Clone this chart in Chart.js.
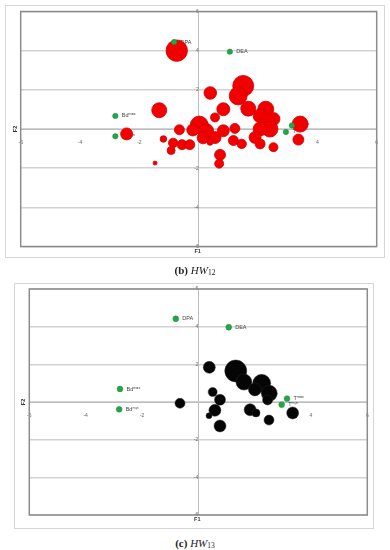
<!DOCTYPE html>
<html><head><meta charset="utf-8">
<script src="https://cdn.jsdelivr.net/npm/chart.js@4"></script>
<style>
body{margin:0;width:390px;height:550px;background:#fff;position:relative;overflow:hidden;font-family:'Liberation Serif',serif}
.frame{position:absolute;border:1px solid #d6d6d6;box-sizing:border-box}
.cv{position:absolute;left:0}
.cap{position:absolute;left:0;width:390px;text-align:center;font-size:11px;color:#222;line-height:14px}
.cap .s{font-size:7.5px;vertical-align:-1px}
</style></head><body>
<div class="frame" style="left:5px;top:5px;width:380px;height:253px"></div>
<div class="frame" style="left:14px;top:283px;width:360px;height:246px"></div>
<div class="cv" style="top:0;width:390px;height:258px"><canvas id="c1"></canvas></div>
<div class="cv" style="top:270px;width:390px;height:260px"><canvas id="c2"></canvas></div>
<div class="cap" style="top:263px"><b>(b)</b> <i>HW</i><span class="s">12</span></div>
<div class="cap" style="top:536px"><b>(c)</b> <i>HW</i><span class="s">13</span></div>
<script>
// axis range / ticks
const axisMin = -6, axisMax = 6, tickStep = 2;

// green reference points (labels)
const greenLabels = ['DPA', 'DEA', 'Bdᵐᵃˣ', 'Bdᵐⁱⁿ', 'Tᵐᵃˣ', 'Tᵐⁱⁿ'];
const greenX12 = [-0.83, 1.05, -2.81, -2.81, 3.14, 2.94];
const greenY12 = [4.44, 3.95, 0.67, -0.37, 0.18, -0.15];
const greenX13 = [-0.80, 1.08, -2.78, -2.81, 3.15, 2.96];
const greenY13 = [4.42, 3.97, 0.69, -0.39, 0.18, -0.14];

// HW12 bubbles (red)
const hw12X = [-0.74, 0.39, 1.50, 1.33, 1.67, 2.26, 2.07, 2.52, 2.29, 2.40, 2.07, 0.83, 0.55, 3.42, 3.36, 2.52, 2.07, 1.90, 1.45, 1.17, 1.22, 0.83, 0.02, -0.20, 0.25, 0.15, 0.55, 0.38, 0.72, 0.69, -0.65, -1.33, -2.43, -1.19, -0.86, -0.93, -0.56, -0.30, -1.47];
const hw12Y = [4.00, 1.84, 2.20, 1.69, 1.04, 1.01, 0.67, 0.51, 0.33, 0.00, 0.00, 1.01, 0.59, 0.25, -0.54, -0.93, -0.76, -0.43, -0.76, -0.59, 0.03, -0.09, 0.20, -0.05, -0.10, -0.45, -0.44, -0.68, -1.32, -1.77, -0.04, 0.96, -0.25, -0.51, -0.71, -1.10, -0.80, -0.80, -1.74];
const hw12Size = [10.7, 6.3, 10.5, 9, 7.5, 8, 7, 6.5, 8, 8, 7, 6.5, 4.5, 8, 5.5, 4.5, 5, 6, 4.7, 5, 5, 6, 9, 6, 7.5, 6, 6, 3, 5.5, 4.5, 5, 7.5, 6, 3.3, 4.7, 4, 5, 5, 2];

// HW13 bubbles (black)
const hw13X = [0.39, 1.33, 1.62, 2.25, 2.01, 2.52, 2.46, 0.51, 0.77, -0.65, 0.59, 0.38, 1.84, 2.05, 3.35, 2.51, 0.77];
const hw13Y = [1.84, 1.65, 1.06, 0.99, 0.67, 0.46, 0.11, 0.53, 0.12, -0.07, -0.44, -0.73, -0.41, -0.58, -0.58, -0.96, -1.27];
const hw13Size = [6, 11, 8, 9, 6.5, 8, 5, 4.5, 5.5, 5, 6, 3, 6, 4, 6, 5, 6];

function pts(xs, ys, rs) { return xs.map((x, i) => ({x: x, y: ys[i], r: rs[i]})); }

const framePlugin = {
  id: 'frameAndTitles',
  beforeDatasetsDraw(chart) {
    const ctx = chart.ctx;
    const meta = chart.getDatasetMeta(0);
    ctx.save();
    ctx.font = '5.5px "Liberation Sans", sans-serif';
    ctx.fillStyle = '#444';
    ctx.textBaseline = 'middle';
    ctx.textAlign = 'left';
    meta.data.forEach((el, i) => { ctx.fillText(greenLabels[i], el.x + 6.5, el.y); });
    ctx.restore();
  },
  afterDraw(chart) {
    const {ctx, chartArea: a, scales} = chart;
    ctx.save();
    ctx.strokeStyle = '#8c8c8c';
    ctx.lineWidth = 1.5;
    ctx.strokeRect(a.left, a.top, a.right - a.left, a.bottom - a.top);
    ctx.fillStyle = '#333';
    ctx.font = 'bold 5.5px "Liberation Sans", sans-serif';
    ctx.textAlign = 'center';
    ctx.textBaseline = 'middle';
    ctx.fillText('F1', scales.x.getPixelForValue(0) - 1, a.bottom + 4.5);
    ctx.translate(a.left - 5.5, scales.y.getPixelForValue(0));
    ctx.rotate(-Math.PI / 2);
    ctx.fillText('F2', 0, 0);
    ctx.restore();
  }
};

function make(id, data, gx, gy, fill, border, pad, greenR) {
  return new Chart(document.getElementById(id), {
    type: 'bubble',
    data: {
      datasets: [
        {data: pts(gx, gy, gx.map(() => greenR)), backgroundColor: '#25a54a', borderColor: '#1a8a3a', borderWidth: 0.5, order: 0},
        {data: data, backgroundColor: fill, borderColor: border, borderWidth: 0.8, order: 1}
      ]
    },
    options: {
      responsive: true, maintainAspectRatio: false, animation: false,
      layout: {padding: pad},
      plugins: {legend: {display: false}, tooltip: {enabled: false}},
      scales: {
        x: {
          type: 'linear', min: axisMin, max: axisMax, position: {y: 0},
          grid: {display: false},
          border: {display: true, color: '#bdbdbd', width: 1},
          ticks: {stepSize: tickStep, autoSkip: false, maxRotation: 0, padding: 3,
                  font: {size: 5, family: 'Liberation Sans'}, color: '#666',
                  callback: v => v === 0 ? '' : String(v)}
        },
        y: {
          type: 'linear', min: axisMin, max: axisMax, position: {x: 0},
          grid: {color: '#d2d2d2', lineWidth: 1.5, drawTicks: false},
          border: {display: true, color: '#bdbdbd', width: 1},
          ticks: {stepSize: tickStep, autoSkip: false, padding: -7,
                  font: {size: 5, family: 'Liberation Sans'}, color: '#666',
                  callback: v => v === 0 ? '' : String(v)}
        }
      }
    },
    plugins: [framePlugin]
  });
}

make('c1', pts(hw12X, hw12Y, hw12Size), greenX12, greenY12, '#f20000', '#d00000',
     {left: 20.7, right: 13.3, top: 10, bottom: 11.3}, 2.7);
make('c2', pts(hw13X, hw13Y, hw13Size), greenX13, greenY13, '#050505', 'rgba(40,40,40,0.6)',
     {left: 29.3, right: 22.7, top: 19, bottom: 15}, 2.9);
</script>
</body></html>
